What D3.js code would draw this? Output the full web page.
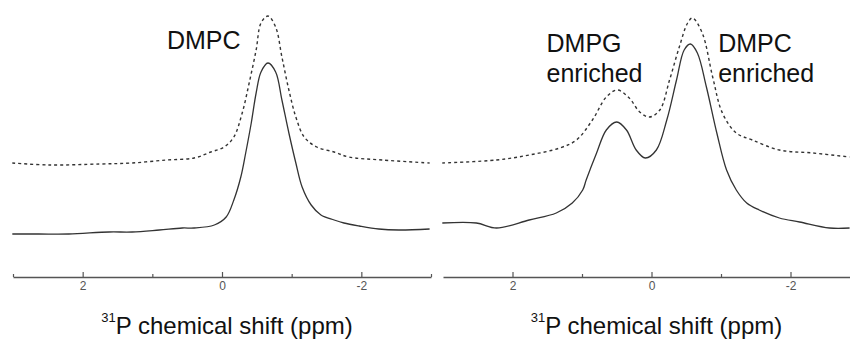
<!DOCTYPE html>
<html>
<head>
<meta charset="utf-8">
<script src="https://cdn.jsdelivr.net/npm/d3@7"></script>
<style>
  body { margin: 0; background: #fff; }
  text { font-family: "Liberation Sans", Arial, Helvetica, sans-serif; }
</style>
</head>
<body>
<div id="chart"></div>
<script>
const width = 850;
const height = 343;
const axisY = 277;

// Left panel: DMPC only (ppm, intensity)
const leftPpm = [3.01, 2.63, 2.2, 1.62, 1.29, 0.9, 0.57, 0.4, 0.11, -0.06, -0.17, -0.27, -0.34, -0.42, -0.49, -0.56, -0.66, -0.77, -0.86, -0.96, -1.06, -1.15, -1.28, -1.42, -1.61, -1.75, -1.97, -2.25, -2.54, -2.98];
const leftSolid = [43, 43, 43, 45, 45, 47, 49, 49, 52, 60, 77, 100, 124, 154, 184, 205, 214, 205, 177, 144, 114, 90, 72, 62, 57, 54, 51, 48, 47, 48];

const leftDotPpm = [3.01, 2.48, 1.76, 1.29, 0.8, 0.4, 0.16, -0.03, -0.17, -0.29, -0.39, -0.49, -0.56, -0.66, -0.77, -0.86, -0.96, -1.06, -1.18, -1.36, -1.61, -1.82, -2.3, -2.98];
const leftDotted = [114, 112, 113, 114, 117, 119, 125, 130, 140, 164, 194, 227, 254, 261, 250, 220, 187, 160, 140, 130, 125, 120, 117, 114];

// Right panel: DMPC/DMPG mixture
const rightPpm = [3.01, 2.52, 2.23, 1.76, 1.37, 1.14, 0.99, 0.94, 0.79, 0.65, 0.5, 0.36, 0.22, 0.09, -0.07, -0.22, -0.36, -0.47, -0.56, -0.66, -0.79, -0.94, -1.08, -1.22, -1.37, -1.55, -1.84, -2.13, -2.56, -2.85];
const rightSolid = [54, 54, 49, 57, 64, 74, 87, 97, 124, 147, 155, 147, 127, 119, 127, 157, 197, 227, 233, 224, 190, 144, 107, 87, 74, 67, 59, 55, 49, 49];

const rightDotPpm = [3.01, 2.23, 1.76, 1.32, 1.08, 0.85, 0.65, 0.49, 0.32, 0.17, 0.03, -0.12, -0.26, -0.4, -0.52, -0.59, -0.73, -0.88, -1.02, -1.22, -1.45, -1.84, -2.32, -2.85];
const rightDotted = [114, 117, 122, 129, 137, 157, 180, 187, 179, 165, 160, 167, 197, 230, 254, 259, 244, 200, 164, 144, 137, 127, 124, 120];

const majorTicks = [2, 0, -2];
const leftMinor = [3, 1, -1, -3];
const rightMinor = [1, -1];

// Peak labels: [text, ppm, intensity]
const leftLabels = [["DMPC", 0.79, 228]];
const rightLabels = [
  ["DMPG", 1.51, 225],
  ["enriched", 1.51, 195],
  ["DMPC", -0.96, 225],
  ["enriched", -0.96, 195]
];

const svg = d3
  .select("#chart")
  .append("svg")
  .attr("width", width)
  .attr("height", height);

const y = d3.scaleLinear().domain([0, 270]).range([axisY, 7]);

function drawPanel(range, solidPpm, solid, dotPpm, dotted, minor, labels) {
  const x = d3.scaleLinear().domain([3, -3]).range(range);
  const g = svg.append("g");

  // minor ticks (no labels)
  g.append("g")
    .attr("transform", `translate(0,${axisY})`)
    .call(d3.axisBottom(x).tickValues(minor).tickSizeInner(-3).tickSizeOuter(0).tickFormat(""))
    .call((a) => a.select(".domain").remove())
    .selectAll("line")
    .attr("stroke", "#555")
    .attr("stroke-width", 1.2);

  // major axis, plain hyphen for negatives like the original
  const ax = g
    .append("g")
    .attr("transform", `translate(0,${axisY})`)
    .call(d3.axisBottom(x).tickValues(majorTicks).tickSizeInner(-5).tickSizeOuter(0).tickPadding(4).tickFormat((d) => String(d)));
  ax.select(".domain").attr("stroke", "#555").attr("stroke-width", 1.3);
  ax.selectAll("line").attr("stroke", "#555").attr("stroke-width", 1.2);
  ax.selectAll("text")
    .style("font-size", "12px")
    .attr("fill", "#555")
    .style("font-family", "'Liberation Sans', Arial, sans-serif");

  // axis title
  const title = g
    .append("text")
    .attr("x", x(0) + 5)
    .attr("y", 334)
    .attr("text-anchor", "middle")
    .attr("fill", "#111");
  title.append("tspan").style("font-size", "13px").attr("dy", -12).text("31");
  title.append("tspan").style("font-size", "24px").attr("dy", 12).text("P chemical shift (ppm)");

  const line = d3
    .line()
    .x((d) => x(d[0]))
    .y((d) => y(d[1]))
    .curve(d3.curveCatmullRom.alpha(0.5));

  // dotted spectrum (upper)
  g.append("path")
    .datum(d3.zip(dotPpm, dotted))
    .attr("fill", "none")
    .attr("stroke", "#333")
    .attr("stroke-width", 1.4)
    .attr("stroke-dasharray", "3,3")
    .attr("d", line);

  // solid spectrum (lower)
  g.append("path")
    .datum(d3.zip(solidPpm, solid))
    .attr("fill", "none")
    .attr("stroke", "#333")
    .attr("stroke-width", 1.3)
    .attr("d", line);

  g.selectAll(".peak-label")
    .data(labels)
    .enter()
    .append("text")
    .attr("class", "peak-label")
    .attr("x", (d) => x(d[1]))
    .attr("y", (d) => y(d[2]))
    .style("font-size", "25px")
    .attr("fill", "#111")
    .text((d) => d[0]);
}

drawPanel([13, 431], leftPpm, leftSolid, leftDotPpm, leftDotted, leftMinor, leftLabels);
drawPanel([443, 860], rightPpm, rightSolid, rightDotPpm, rightDotted, rightMinor, rightLabels);
</script>
</body>
</html>
